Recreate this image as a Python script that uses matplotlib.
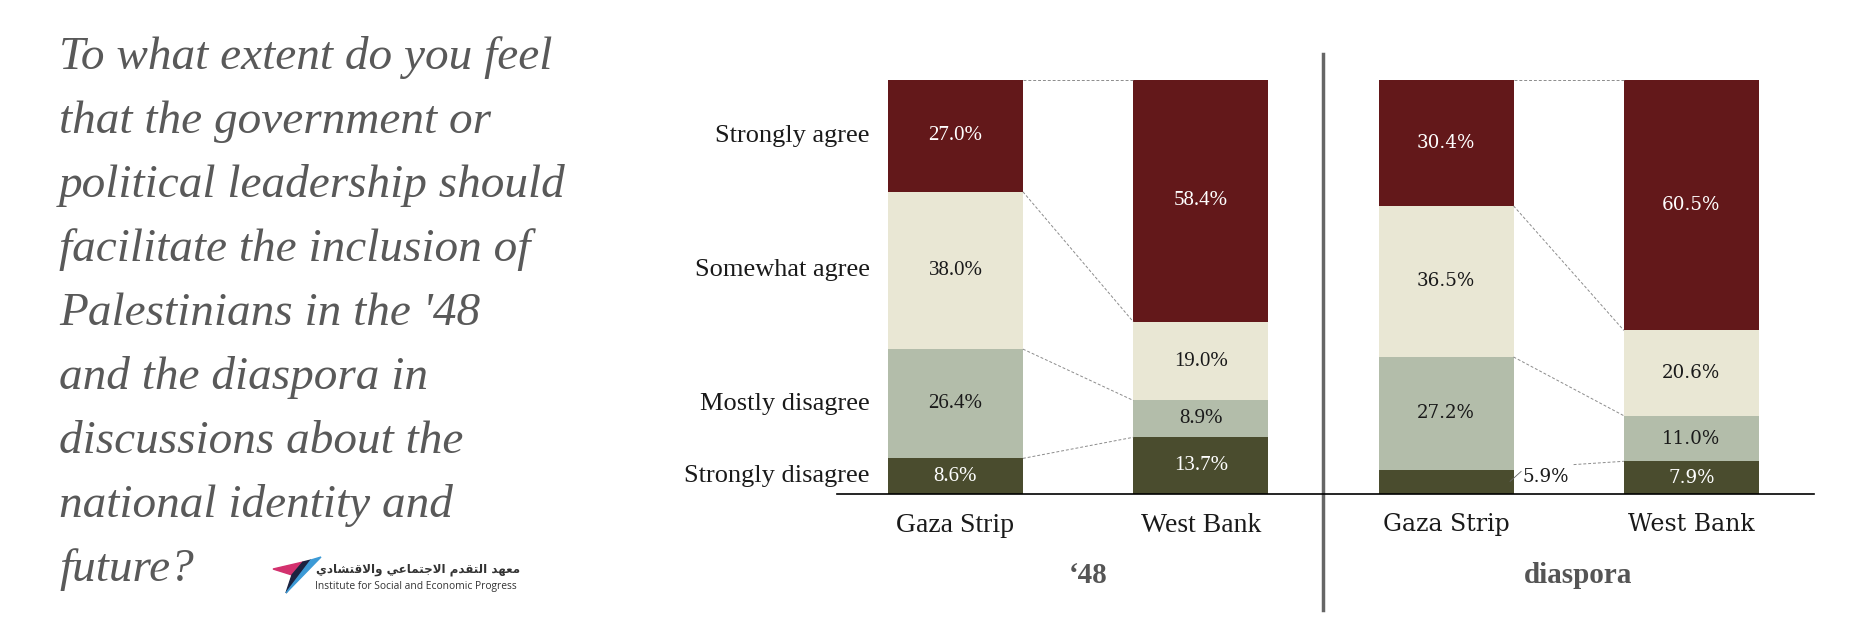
import numpy as np
import matplotlib.pyplot as plt
from matplotlib.patches import Polygon

# data
categories = ["Gaza Strip", "West Bank", "Gaza Strip", "West Bank"]
groups = ["\u201848", "diaspora"]
responses = ["Strongly disagree", "Mostly disagree", "Somewhat agree", "Strongly agree"]
strongly_disagree = [8.6, 13.7, 5.9, 7.9]
mostly_disagree = [26.4, 8.9, 27.2, 11.0]
somewhat_agree = [38.0, 19.0, 36.5, 20.6]
strongly_agree = [27.0, 58.4, 30.4, 60.5]

title_lines = [
    "To what extent do you feel",
    "that the government or",
    "political leadership should",
    "facilitate the inclusion of",
    "Palestinians in the '48",
    "and the diaspora in",
    "discussions about the",
    "national identity and",
    "future?",
]

# arabic name of the institute, written in presentation forms (visual order)
ar_words = [
    "\uFEE3\uFECC\uFEEC\uFEAA",
    "\uFE8D\uFEDF\uFE98\uFED8\uFEAA\uFEE1",
    "\uFE8D\uFEFB\uFE9F\uFE98\uFEE4\uFE8E\uFECB\uFEF2",
    "\uFEED\uFE8D\uFEFB\uFED7\uFE98\uFEB8\uFE8E\uFEA9\uFEF1",
]
ar_name = " ".join(ar_words)[::-1]
en_name = "Institute for Social and Economic Progress"

colors = ["#4a4c2e", "#b3bdaa", "#e9e7d4", "#63181a"]
text_colors = ["white", "#1a1a1a", "#1a1a1a", "white"]
serif = "Liberation Serif"

W, H = 1874, 628
fig = plt.figure(figsize=(W / 100, H / 100), dpi=100)

# title on the left
for i, line in enumerate(title_lines):
    fig.text(59 / W, 1 - (69 + i * 64) / H, line, family=serif, style="italic",
             fontsize=34, color="#595959", va="baseline", ha="left")

# logo
def fpx(pts):
    return [(px / W, 1 - py / H) for px, py in pts]

fig.add_artist(Polygon(fpx([(273, 569), (303, 562), (292, 575)]), closed=True,
                       color="#d3316e", transform=fig.transFigure))
fig.add_artist(Polygon(fpx([(303, 562), (311, 560), (286, 593), (292, 575)]), closed=True,
                       color="#1c2340", transform=fig.transFigure))
fig.add_artist(Polygon(fpx([(311, 560), (321, 557), (286, 593)]), closed=True,
                       color="#3c9ad6", transform=fig.transFigure))
fig.text(520 / W, 1 - 570 / H, ar_name, family="DejaVu Sans", fontsize=8.6,
         fontweight="bold", color="#333333", ha="right", va="center")
fig.text(315 / W, 1 - 586 / H, en_name, family="Open Sans", fontsize=7.4,
         color="#333333", ha="left", va="center")

# chart
ax = fig.add_axes([837 / W, 1 - 494 / H, 977 / W, 414 / H])
x = np.arange(len(categories))
bw = 0.55
series = [strongly_disagree, mostly_disagree, somewhat_agree, strongly_agree]

bottom = np.zeros(len(categories))
for vals, col, tc in zip(series, colors, text_colors):
    vals = np.array(vals)
    ax.bar(x, vals, bw, bottom=bottom, color=col, linewidth=0)
    for i, v in enumerate(vals):
        mid = bottom[i] + v / 2
        if i < 2:
            fam, fs = serif, 15
        else:
            fam, fs = "DejaVu Serif", 13.2
        if v < 7:
            # small segment, label outside with a leader
            ax.text(x[i] + bw / 2 + 0.036, mid + 1.25, f"{v:.1f}%", family=fam,
                    fontsize=fs, color="#1a1a1a", ha="left", va="center")
            ax.plot([x[i] + bw / 2 - 0.014, x[i] + bw / 2 + 0.031], [mid + 0.1, mid + 2.5],
                    color="#666666", lw=0.6)
        else:
            ax.text(x[i], mid, f"{v:.1f}%", family=fam, fontsize=fs,
                    color=tc, ha="center", va="center")
    bottom += vals

# dashed connectors between bars of the same group
cum = np.cumsum(np.array(series), axis=0)
for g in (0, 2):
    for lvl in range(len(series)):
        x0, y0 = x[g] + bw / 2, cum[lvl, g]
        if series[lvl][g] < 7:
            x0, y0 = x[g] + 0.52, cum[lvl, g] + 1.2
        ax.plot([x0, x[g + 1] - bw / 2], [y0, cum[lvl, g + 1]],
                ls=(0, (3, 2)), color="#8c8c8c", lw=0.7)

# response labels next to the first bar
for lvl, name in enumerate(responses):
    mid = cum[lvl, 0] - series[lvl][0] / 2
    ax.text(x[0] - bw / 2 - 0.075, mid, name, family=serif, fontsize=19,
            color="#1a1a1a", ha="right", va="center")

# group labels and divider
for gi, name in enumerate(groups):
    ax.text(2 * gi + 0.54, -19.8, name, family=serif, fontsize=21, fontweight="bold",
            color="#555555", ha="center", va="center")
ax.plot([1.5, 1.5], [106.3, -28.0], color="#666666", lw=2.5, clip_on=False)

ax.set_xlim(-0.483, 3.5)
ax.set_ylim(0, 100)
ax.set_xticks(x)
ax.set_xticklabels(categories, family=serif, fontsize=20, color="#1a1a1a")
for lab in ax.get_xticklabels()[2:]:
    lab.set_family("DejaVu Serif")
    lab.set_fontsize(17)
ax.tick_params(axis="x", length=0, pad=14)
ax.set_yticks([])
for s in ["top", "right", "left"]:
    ax.spines[s].set_visible(False)
ax.spines["bottom"].set_linewidth(1.2)
ax.spines["bottom"].set_color("black")

fig.savefig("out.png", dpi=100)
